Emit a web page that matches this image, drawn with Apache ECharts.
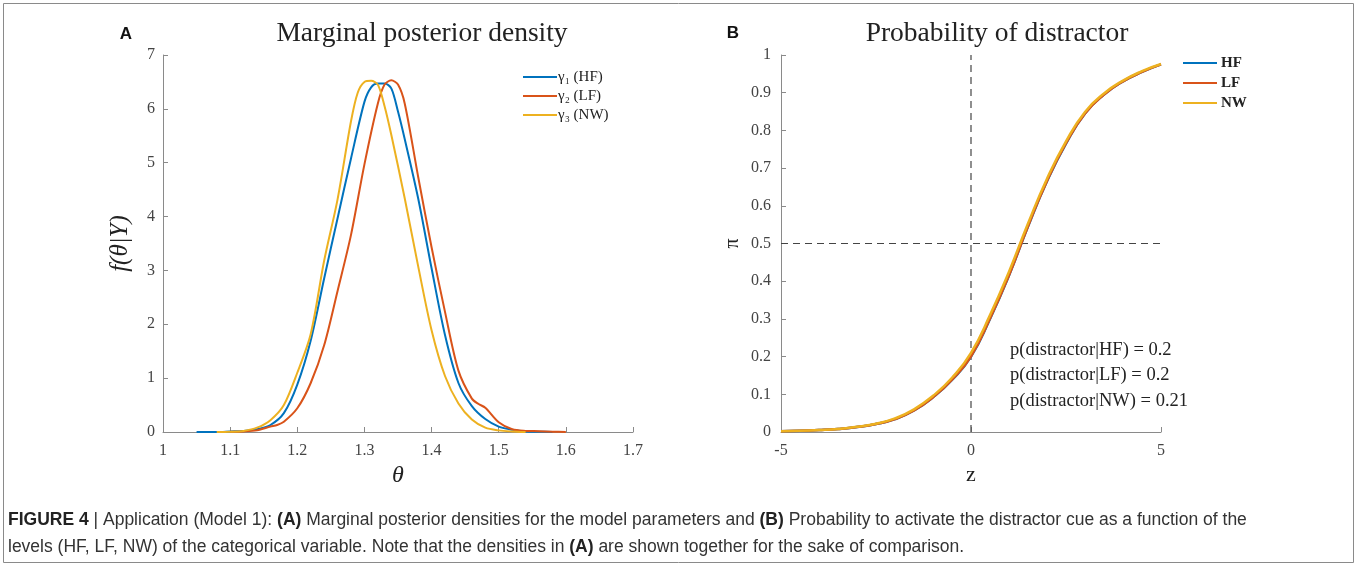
<!DOCTYPE html>
<html>
<head>
<meta charset="utf-8">
<script src="https://cdn.jsdelivr.net/npm/echarts@6/dist/echarts.min.js"></script>
<style>
  html, body { margin: 0; padding: 0; background: #fff; }
  #chart { width: 1357px; height: 567px; }
</style>
</head>
<body>
<div id="chart"></div>
<script>
// ---------- Panel A: marginal posterior densities ----------
const thetaHF = [1.05, 1.08, 1.10, 1.12, 1.14, 1.16, 1.18, 1.20, 1.22, 1.24, 1.26, 1.28, 1.30, 1.31, 1.32, 1.33, 1.34, 1.35, 1.36, 1.38, 1.40, 1.42, 1.44, 1.46, 1.48, 1.50, 1.52, 1.54, 1.56, 1.58];
const densHF  = [0, 0, 0.01, 0.02, 0.05, 0.13, 0.35, 0.88, 1.70, 2.85, 3.97, 5.08, 6.13, 6.40, 6.47, 6.47, 6.38, 5.95, 5.44, 4.34, 3.04, 1.80, 0.91, 0.48, 0.24, 0.10, 0.04, 0.01, 0.005, 0];

const thetaLF = [1.10, 1.12, 1.14, 1.16, 1.17, 1.18, 1.20, 1.22, 1.24, 1.26, 1.28, 1.30, 1.32, 1.33, 1.34, 1.35, 1.36, 1.38, 1.40, 1.42, 1.44, 1.46, 1.47, 1.48, 1.50, 1.52, 1.54, 1.56, 1.58, 1.60];
const densLF  = [0.005, 0.01, 0.03, 0.10, 0.13, 0.19, 0.44, 0.91, 1.61, 2.62, 3.66, 4.97, 6.10, 6.45, 6.53, 6.45, 6.10, 4.74, 3.43, 2.23, 1.14, 0.62, 0.52, 0.45, 0.18, 0.05, 0.02, 0.015, 0.005, 0];

const thetaNW = [1.08, 1.10, 1.12, 1.14, 1.16, 1.18, 1.20, 1.22, 1.24, 1.26, 1.28, 1.29, 1.30, 1.31, 1.32, 1.33, 1.34, 1.36, 1.38, 1.40, 1.42, 1.44, 1.46, 1.48, 1.50, 1.52, 1.54];
const densNW  = [0, 0.005, 0.02, 0.08, 0.22, 0.50, 1.10, 1.82, 3.18, 4.32, 5.77, 6.30, 6.50, 6.52, 6.45, 6.05, 5.52, 4.34, 3.08, 1.89, 1.04, 0.53, 0.23, 0.08, 0.03, 0.01, 0];

const legendA = ['γ₁ (HF)', 'γ₂ (LF)', 'γ₃ (NW)'];
const xTicksA = [1, 1.1, 1.2, 1.3, 1.4, 1.5, 1.6, 1.7];

// ---------- Panel B: probability of distractor ----------
const zValues = [-5, -4.5, -4, -3.5, -3, -2.5, -2, -1.5, -1, -0.5, 0, 0.5, 1, 1.5, 2, 2.5, 3, 3.5, 4, 4.5, 5];
const piHF = [0.002, 0.003, 0.005, 0.008, 0.013, 0.021, 0.034, 0.057, 0.092, 0.138, 0.200, 0.300, 0.415, 0.545, 0.665, 0.765, 0.845, 0.895, 0.930, 0.955, 0.975];
const piLF = [0.002, 0.003, 0.005, 0.008, 0.013, 0.021, 0.034, 0.057, 0.092, 0.139, 0.201, 0.301, 0.416, 0.546, 0.666, 0.766, 0.845, 0.895, 0.930, 0.955, 0.975];
const piNW = [0.002, 0.003, 0.005, 0.008, 0.014, 0.022, 0.036, 0.060, 0.096, 0.144, 0.210, 0.310, 0.425, 0.553, 0.672, 0.771, 0.849, 0.898, 0.932, 0.957, 0.976];
const legendB = ['HF', 'LF', 'NW'];
const annotB = ['p(distractor|HF) = 0.2', 'p(distractor|LF) = 0.2', 'p(distractor|NW) = 0.21'];
const refZ = [0];
const refPi = [0.5];

const colors = ['#0072BD', '#D95319', '#EDB120'];
const SERIF = '"Liberation Serif", "DejaVu Serif", serif';
const SANS = '"Liberation Sans", Arial, sans-serif';

function zip(xs, ys) { return xs.map((x, i) => [x, ys[i]]); }

const axisCommon = {
  axisLine: { show: true, onZero: false, lineStyle: { color: '#8a8a8a', width: 1 } },
  axisTick: { show: true, inside: true, length: 5, lineStyle: { color: '#8a8a8a' } },
  splitLine: { show: false },
  axisLabel: { color: '#444', fontFamily: SERIF, fontSize: 16 }
};

const chart = echarts.init(document.getElementById('chart'), null, { renderer: 'canvas' });

const option = {
  backgroundColor: '#fff',
  animation: false,
  grid: [
    { left: 163, top: 55, width: 470, height: 377 },
    { left: 781, top: 55, width: 380, height: 377 }
  ],
  xAxis: [
    Object.assign({}, axisCommon, {
      type: 'value', gridIndex: 0, min: xTicksA[0], max: xTicksA[xTicksA.length - 1], interval: 0.1,
      name: 'θ', nameLocation: 'middle', nameGap: 25,
      nameTextStyle: { color: '#222', fontFamily: SERIF, fontSize: 24, fontStyle: 'italic' },
      axisLabel: Object.assign({}, axisCommon.axisLabel, { margin: 11, formatter: v => String(+v.toFixed(1)) })
    }),
    Object.assign({}, axisCommon, {
      type: 'value', gridIndex: 1, min: -5, max: 5, interval: 5,
      name: 'z', nameLocation: 'middle', nameGap: 30,
      nameTextStyle: { color: '#222', fontFamily: SERIF, fontSize: 22 },
      axisLabel: Object.assign({}, axisCommon.axisLabel, { margin: 11 })
    })
  ],
  yAxis: [
    Object.assign({}, axisCommon, {
      type: 'value', gridIndex: 0, min: 0, max: 7, interval: 1,
      name: 'f(θ|Y)', nameLocation: 'middle', nameGap: 30, nameRotate: 90,
      nameTextStyle: { color: '#222', fontFamily: SERIF, fontSize: 25, fontStyle: 'italic' },
      axisLabel: Object.assign({}, axisCommon.axisLabel, { margin: 8 })
    }),
    Object.assign({}, axisCommon, {
      type: 'value', gridIndex: 1, min: 0, max: 1, interval: 0.1,
      name: 'π', nameLocation: 'middle', nameGap: 38, nameRotate: 90,
      nameTextStyle: { color: '#222', fontFamily: SERIF, fontSize: 20 },
      axisLabel: Object.assign({}, axisCommon.axisLabel, { margin: 10, formatter: v => String(+v.toFixed(1)) })
    })
  ],
  legend: [
    {
      data: legendA, orient: 'vertical', left: 518, top: 62.5, itemGap: 0,
      itemWidth: 34, itemHeight: 2, icon: 'rect',
      textStyle: { fontFamily: SERIF, fontSize: 15, color: '#222', lineHeight: 19, padding: [0, 0, 0, -4] },
      selectedMode: false
    },
    {
      data: legendB, orient: 'vertical', left: 1178, top: 48, itemGap: 0,
      itemWidth: 34, itemHeight: 2, icon: 'rect',
      textStyle: { fontFamily: SERIF, fontSize: 15, fontWeight: 'bold', color: '#222', lineHeight: 20, padding: [0, 0, 0, -1] },
      selectedMode: false
    }
  ],
  series: [
    { name: legendA[0], type: 'line', xAxisIndex: 0, yAxisIndex: 0, data: zip(thetaHF, densHF), showSymbol: false, symbol: 'none', smooth: 0.3, lineStyle: { color: colors[0], width: 2 }, itemStyle: { color: colors[0] } },
    { name: legendA[1], type: 'line', xAxisIndex: 0, yAxisIndex: 0, data: zip(thetaLF, densLF), showSymbol: false, symbol: 'none', smooth: 0.3, lineStyle: { color: colors[1], width: 2 }, itemStyle: { color: colors[1] } },
    { name: legendA[2], type: 'line', xAxisIndex: 0, yAxisIndex: 0, data: zip(thetaNW, densNW), showSymbol: false, symbol: 'none', smooth: 0.3, lineStyle: { color: colors[2], width: 2 }, itemStyle: { color: colors[2] } },

    { name: 'ref', type: 'line', xAxisIndex: 1, yAxisIndex: 1, data: [[refZ[0], 0], [refZ[0], 1]], showSymbol: false, symbol: 'none', lineStyle: { color: '#444', width: 1.2, type: [7, 5] }, silent: true },
    { name: 'ref2', type: 'line', xAxisIndex: 1, yAxisIndex: 1, data: [[-5, refPi[0]], [5, refPi[0]]], showSymbol: false, symbol: 'none', lineStyle: { color: '#444', width: 1.2, type: [7, 5] }, silent: true },

    { name: legendB[0], type: 'line', xAxisIndex: 1, yAxisIndex: 1, data: zip(zValues, piHF), showSymbol: false, symbol: 'none', smooth: true, lineStyle: { color: colors[0], width: 2.5 }, itemStyle: { color: colors[0] } },
    { name: legendB[1], type: 'line', xAxisIndex: 1, yAxisIndex: 1, data: zip(zValues, piLF), showSymbol: false, symbol: 'none', smooth: true, lineStyle: { color: colors[1], width: 2.5 }, itemStyle: { color: colors[1] } },
    { name: legendB[2], type: 'line', xAxisIndex: 1, yAxisIndex: 1, data: zip(zValues, piNW), showSymbol: false, symbol: 'none', smooth: true, lineStyle: { color: colors[2], width: 2.5 }, itemStyle: { color: colors[2] } }
  ],
  graphic: [
    { type: 'rect', shape: { x: 3.5, y: 3.5, width: 1350, height: 559 }, style: { fill: 'none', stroke: '#8a8a8a', lineWidth: 1 }, silent: true },
    { type: 'text', x: 126, y: 34, style: { text: 'A', font: 'bold 17px ' + SANS, fill: '#111', textAlign: 'center', textVerticalAlign: 'middle' } },
    { type: 'text', x: 733, y: 33, style: { text: 'B', font: 'bold 17px ' + SANS, fill: '#111', textAlign: 'center', textVerticalAlign: 'middle' } },
    { type: 'text', x: 422, y: 34, style: { text: 'Marginal posterior density', font: '27.5px ' + SERIF, fill: '#222', textAlign: 'center', textVerticalAlign: 'middle' } },
    { type: 'text', x: 997, y: 34, style: { text: 'Probability of distractor', font: '27.5px ' + SERIF, fill: '#222', textAlign: 'center', textVerticalAlign: 'middle' } },
    { type: 'text', x: 1010, y: 350, style: { text: annotB[0], font: '18.5px ' + SERIF, fill: '#222', textAlign: 'left', textVerticalAlign: 'middle' } },
    { type: 'text', x: 1010, y: 375, style: { text: annotB[1], font: '18.5px ' + SERIF, fill: '#222', textAlign: 'left', textVerticalAlign: 'middle' } },
    { type: 'text', x: 1010, y: 401, style: { text: annotB[2], font: '18.5px ' + SERIF, fill: '#222', textAlign: 'left', textVerticalAlign: 'middle' } },
    { type: 'text', x: 8, y: 520, style: {
        text: '{b|FIGURE 4} | Application (Model 1): {b|(A)} Marginal posterior densities for the model parameters and {b|(B)} Probability to activate the distractor cue as a function of the',
        font: '17.5px ' + SANS, fill: '#333', textVerticalAlign: 'middle',
        rich: { b: { fontWeight: 'bold', fontFamily: SANS, fontSize: 17.5, fill: '#222' } }
    } },
    { type: 'text', x: 8, y: 547, style: {
        text: 'levels (HF, LF, NW) of the categorical variable. Note that the densities in {b|(A)} are shown together for the sake of comparison.',
        font: '17.5px ' + SANS, fill: '#333', textVerticalAlign: 'middle',
        rich: { b: { fontWeight: 'bold', fontFamily: SANS, fontSize: 17.5, fill: '#222' } }
    } }
  ]
};
chart.setOption(option);
</script>
</body>
</html>
